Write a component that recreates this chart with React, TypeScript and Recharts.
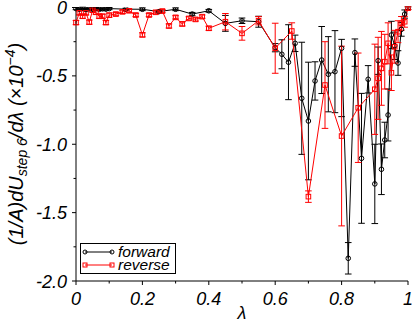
import React from 'react';
import { LineChart, Line, XAxis, YAxis, ErrorBar, Legend } from 'recharts';

// forward run (black circles)
const fwdLambda = [
  0, 0.01, 0.02, 0.03, 0.04, 0.05, 0.06, 0.07, 0.08, 0.09, 0.1,
  0.15, 0.2, 0.25, 0.3, 0.35, 0.4, 0.45, 0.5, 0.55,
  0.6, 0.62, 0.64, 0.66, 0.68, 0.7, 0.72, 0.74, 0.76, 0.78,
  0.8, 0.82, 0.84, 0.86, 0.88, 0.9, 0.91, 0.92, 0.93, 0.94,
  0.95, 0.96, 0.97, 0.98, 0.99, 1,
];
const fwdValue = [
  -0.008, -0.012, -0.006, -0.015, -0.01, -0.012, -0.008, -0.014, -0.01, -0.012, -0.008,
  -0.012, -0.013, -0.03, -0.013, -0.048, -0.024, -0.116, -0.097, -0.104,
  -0.294, -0.342, -0.4, -0.262, -0.664, -0.83, -0.537, -0.384, -0.488, -0.469,
  -0.298, -1.834, -0.33, -1.103, -0.525, -1.29, -0.389, -1.183, -0.969, -0.786,
  -0.201, -0.28, -0.406, -0.16, -0.048, -0.005,
];
const fwdError: (number | number[])[] = [
  0.008, 0.008, 0.008, 0.008, 0.008, 0.008, 0.008, 0.008, 0.008, 0.008, 0.008,
  0.006, 0.01, 0.01, 0.01, 0.012, 0.01, 0.058, 0.02, 0.04,
  0.03, 0.106, 0.274, 0.06, 0.41, 0.43, 0.14, 0.245, 0.275, 0.3,
  [0.5, 0.065], 0.115, 0.1, 0.475, 0.1, 0.29, 0.1, 0.185, 0.13, 0.19,
  0.1, 0.1, 0.09, 0.05, 0.03, 0.01,
];

// reverse run (red squares)
const revLambda = [
  0, 0.01, 0.02, 0.03, 0.04, 0.05, 0.06, 0.07, 0.08, 0.09, 0.1,
  0.12, 0.14, 0.16, 0.18, 0.2, 0.22, 0.24, 0.26, 0.28, 0.3,
  0.32, 0.34, 0.36, 0.38, 0.4, 0.45, 0.5, 0.55, 0.6, 0.65,
  0.7, 0.75, 0.8, 0.85, 0.9, 0.91, 0.92, 0.93, 0.94, 0.95,
  0.96, 0.97, 0.98, 0.99, 1,
];
const revValue = [
  -0.11, -0.039, -0.064, -0.039, -0.107, -0.02, -0.035, -0.064, -0.064, -0.11, -0.056,
  -0.048, -0.032, -0.024, -0.055, -0.2, -0.055, -0.035, -0.026, -0.135, -0.072,
  -0.12, -0.08, -0.087, -0.067, -0.152, -0.104, -0.189, -0.097, -0.298, -0.172,
  -1.383, -0.567, -0.94, -0.733, -0.598, -0.518, -0.445, -0.396, -0.262, -0.477,
  -0.287, -0.177, -0.116, -0.104, -0.005,
];
const revError = [
  0.015, 0.015, 0.015, 0.015, 0.015, 0.015, 0.015, 0.015, 0.015, 0.015, 0.015,
  0.012, 0.012, 0.012, 0.012, 0.015, 0.012, 0.012, 0.012, 0.015, 0.012,
  0.015, 0.012, 0.012, 0.012, 0.015, 0.06, 0.05, 0.03, 0.183, 0.06,
  0.042, 0.317, 0.657, 0.4, 0.33, 0.3, 0.27, 0.2, 0.15, 0.13,
  0.12, 0.08, 0.05, 0.04, 0.01,
];

const xTicks = [0, 0.1, 0.2, 0.3, 0.4, 0.5, 0.6, 0.7, 0.8, 0.9, 1];
const yTicks = [0, -0.25, -0.5, -0.75, -1, -1.25, -1.5, -1.75, -2];

const fwdData = fwdLambda.map((l, i) => ({ lambda: l, v: fwdValue[i], err: fwdError[i] }));
const revData = revLambda.map((l, i) => ({ lambda: l, v: revValue[i], err: revError[i] }));

const FONT = '"Liberation Sans", Arial, Helvetica, sans-serif';

const isMajorX = (v: number) => Math.round(v * 10) % 2 === 0;
const isMajorY = (v: number) => Math.abs(Math.round(v * 4)) % 2 === 0;
const fmtX = (v: number) => (v === 0 ? '0' : v === 1 ? '1' : v.toFixed(1));
const fmtY = (v: number) => (v === 0 ? '0' : v.toFixed(1));

const BottomTick = (props: any) => {
  const { x, y, payload } = props;
  const major = isMajorX(payload.value);
  return (
    <g>
      <line x1={x} x2={x} y1={y} y2={y + (major ? 4 : 2.5)} stroke="#000" />
      {major && (
        <text x={x} y={y + 24} textAnchor="middle" fontSize={18} fontStyle="italic" fontFamily={FONT} fill="#000">
          {fmtX(payload.value)}
        </text>
      )}
    </g>
  );
};

const TopTick = (props: any) => {
  const { x, y, payload } = props;
  const major = isMajorX(payload.value);
  return <line x1={x} x2={x} y1={y} y2={y - (major ? 4 : 2.5)} stroke="#000" />;
};

const LeftTick = (props: any) => {
  const { x, y, payload } = props;
  const major = isMajorY(payload.value);
  return (
    <g>
      <line x1={x} x2={x - (major ? 4 : 2.5)} y1={y} y2={y} stroke="#000" />
      {major && (
        <text x={x - 9} y={y + 6.5} textAnchor="end" fontSize={18} fontStyle="italic" fontFamily={FONT} fill="#000">
          {fmtY(payload.value)}
        </text>
      )}
    </g>
  );
};

const RightTick = (props: any) => {
  const { x, y, payload } = props;
  const major = isMajorY(payload.value);
  return <line x1={x} x2={x + (major ? 4 : 2.5)} y1={y} y2={y} stroke="#000" />;
};

const CircleDot = (props: any) => {
  const { cx, cy, index } = props;
  if (cx == null || cy == null) return <g key={index} />;
  return <circle key={index} cx={cx} cy={cy} r={2.3} fill="none" stroke="#000" strokeWidth={1} />;
};

const SquareDot = (props: any) => {
  const { cx, cy, index } = props;
  if (cx == null || cy == null) return <g key={index} />;
  return <rect key={index} x={cx - 2.3} y={cy - 2.3} width={4.6} height={4.6} fill="none" stroke="#ff0000" strokeWidth={1} />;
};

const YTitle = () => (
  <text transform="translate(23,144) rotate(-90)" textAnchor="middle" fontSize={20} fontStyle="italic" fontFamily={FONT} fill="#000">
    (1/A)dU
    <tspan fontSize={14} dy={4}>step 6</tspan>
    <tspan fontSize={20} dy={-4}>/dλ (×10</tspan>
    <tspan fontSize={14} dy={-8}>−4</tspan>
    <tspan fontSize={20} dy={8}>)</tspan>
  </text>
);

const XTitle = () => (
  <text x={242} y={319} textAnchor="middle" fontSize={18} fontStyle="italic" fontFamily={FONT} fill="#000">
    λ
  </text>
);

const LegendBox = () => (
  <svg width={96} height={32} style={{ display: 'block' }}>
    <rect x={0.5} y={0.5} width={95} height={30} fill="#fff" stroke="#000" />
    <line x1={5} x2={32} y1={9} y2={9} stroke="#000" />
    <circle cx={5} cy={9} r={2} fill="none" stroke="#000" />
    <circle cx={32} cy={9} r={2} fill="none" stroke="#000" />
    <text x={38} y={14} fontSize={15.5} fontStyle="italic" fontFamily={FONT} fill="#000">forward</text>
    <line x1={5} x2={32} y1={22} y2={22} stroke="#ff0000" />
    <rect x={3} y={20} width={4} height={4} fill="none" stroke="#ff0000" />
    <rect x={30} y={20} width={4} height={4} fill="none" stroke="#ff0000" />
    <text x={38} y={27} fontSize={15.5} fontStyle="italic" fontFamily={FONT} fill="#000">reverse</text>
  </svg>
);

export default function App() {
  return (
    <div style={{ width: 415, height: 322 }}>
      <style>{'body{margin:0}'}</style>
      <LineChart width={415} height={322} margin={{ top: 7.5, right: 7, bottom: 0, left: 0 }}>
        <XAxis
          dataKey="lambda"
          type="number"
          domain={[0, 1]}
          ticks={xTicks}
          interval={0}
          tick={BottomTick}
          tickLine={false}
          tickSize={0}
          tickMargin={0}
          height={41}
          axisLine={{ stroke: '#000' }}
          label={XTitle}
        />
        <XAxis
          xAxisId="top"
          orientation="top"
          type="number"
          domain={[0, 1]}
          ticks={xTicks}
          interval={0}
          tick={TopTick}
          tickLine={false}
          tickSize={0}
          tickMargin={0}
          height={0}
          axisLine={{ stroke: '#000' }}
        />
        <YAxis
          type="number"
          domain={[-2, 0]}
          ticks={yTicks}
          interval={0}
          tick={LeftTick}
          tickLine={false}
          tickSize={0}
          tickMargin={0}
          width={76}
          allowDataOverflow
          axisLine={{ stroke: '#000' }}
          label={YTitle}
        />
        <YAxis
          yAxisId="right"
          orientation="right"
          type="number"
          domain={[-2, 0]}
          ticks={yTicks}
          interval={0}
          tick={RightTick}
          tickLine={false}
          tickSize={0}
          tickMargin={0}
          width={0}
          axisLine={{ stroke: '#000' }}
        />
        <Legend
          verticalAlign="middle"
          align="center"
          wrapperStyle={{ position: 'absolute', left: 80, top: 243, width: 96, height: 32 }}
          content={LegendBox}
        />
        <Line
          data={fwdData}
          dataKey="v"
          name="forward"
          type="linear"
          stroke="#000"
          strokeWidth={1}
          dot={CircleDot}
          activeDot={false}
          isAnimationActive={false}
        >
          <ErrorBar dataKey="err" direction="y" width={3.3} stroke="#000" strokeWidth={1} isAnimationActive={false} />
        </Line>
        <Line
          data={revData}
          dataKey="v"
          name="reverse"
          type="linear"
          stroke="#ff0000"
          strokeWidth={1}
          dot={SquareDot}
          activeDot={false}
          isAnimationActive={false}
        >
          <ErrorBar dataKey="err" direction="y" width={3.3} stroke="#ff0000" strokeWidth={1} isAnimationActive={false} />
        </Line>
      </LineChart>
    </div>
  );
}
